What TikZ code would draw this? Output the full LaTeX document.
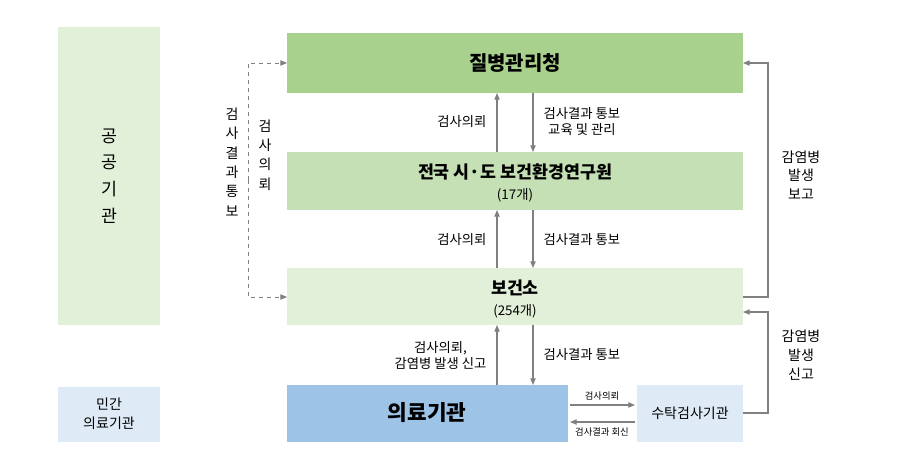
\documentclass[tikz,border=0pt]{standalone}
\usepackage{fontspec}
\setmainfont{Noto Sans CJK KR}
\usetikzlibrary{arrows.meta}
\definecolor{g1}{HTML}{A9D18E}
\definecolor{g2}{HTML}{C5E0B4}
\definecolor{g3}{HTML}{E2F0D9}
\definecolor{b1}{HTML}{9DC3E6}
\definecolor{b2}{HTML}{DEEBF7}
\definecolor{ln}{HTML}{808080}
\begin{document}
\begin{tikzpicture}[x=0.75pt,y=-0.75pt,
  box/.style={draw=none,inner sep=0pt,align=center},
  lab/.style={font=\fontsize{10}{12}\selectfont,align=center,inner sep=1pt},
  arr/.style={draw=ln,line width=0.8pt,-{Triangle[length=5pt,width=4pt]}}]
\useasboundingbox (0,0) rectangle (901,475);
\fill[g3] (58,27) rectangle (160,325);
\node[lab,font=\fontsize{13}{20}\selectfont] (pub) at (109,176) {공\\공\\기\\관};
\fill[b2] (58,387) rectangle (160,442);
\node[lab,font=\fontsize{10.5}{14}\selectfont] (pri) at (109,414) {민간\\의료기관};
\fill[g1] (287,33) rectangle (743,93);
\node[box,font=\fontsize{15}{18}\selectfont\bfseries] (kdca) at (515,63) {질병관리청};
\coordinate (kdcaL) at (287,63); \coordinate (kdcaR) at (743,63);
\fill[g2] (287,152) rectangle (743,210);
\node[box,font=\fontsize{13}{16}\selectfont\bfseries] (inst) at (515,172) {전국 시·도 보건환경연구원};
\node[lab] (inst2) at (515,195) {(17개)};
\fill[g3] (287,268) rectangle (743,325);
\node[box,font=\fontsize{13}{16}\selectfont\bfseries] (phc) at (515,288) {보건소};
\node[lab] (phc2) at (515,311) {(254개)};
\coordinate (phcL) at (287,297); \coordinate (phcR) at (743,297); \coordinate (phcR2) at (743,312);
\fill[b1] (287,385) rectangle (568,442);
\node[box,font=\fontsize{16}{18}\selectfont\bfseries] (med) at (427,413) {의료기관};
\fill[b2] (637,385) rectangle (743,442);
\node[lab,font=\fontsize{10.5}{13}\selectfont] (lab) at (690,413) {수탁검사기관};
% vertical arrows
\foreach \ya/\yb in {93/152,210/268,325/385}{
  \draw[arr] (497,\yb) -- (497,\ya);
  \draw[arr] (533,\ya) -- (533,\yb);
}
\node[lab,anchor=east] (l1) at (488,122) {검사의뢰};
\node[lab,anchor=west] (l2) at (542,122) {검사결과 통보\\교육 및 관리};
\node[lab,anchor=east] (l3) at (488,240) {검사의뢰};
\node[lab,anchor=west] (l4) at (542,240) {검사결과 통보};
\node[lab,anchor=east] (l5) at (488,355) {검사의뢰,\\감염병 발생 신고};
\node[lab,anchor=west] (l6) at (542,355) {검사결과 통보};
% dashed
\draw[arr,dashed,line width=0.7pt] (248,180) -- (248,63) -- (kdcaL);
\draw[arr,dashed,line width=0.7pt] (248,180) -- (248,297) -- (phcL);
\node[lab,font=\fontsize{10.5}{14.5}\selectfont] (d1) at (232,162) {검\\사\\결\\과\\통\\보};
\node[lab,font=\fontsize{10.5}{14.5}\selectfont] (d2) at (265,155) {검\\사\\의\\뢰};
% right
\draw[arr] (phcR) -- (768,297) -- (768,63) -- (kdcaR);
\node[lab,font=\fontsize{10.5}{14}\selectfont] (r1) at (801,175) {감염병\\발생\\보고};
\draw[arr] (743,413) -- (768,413) -- (768,312) -- (phcR2);
\node[lab,font=\fontsize{10.5}{14}\selectfont] (r2) at (801,355) {감염병\\발생\\신고};
% med <-> lab
\draw[arr] (570,405) -- (635,405);
\draw[arr] (635,422) -- (570,422);
\node[lab,font=\fontsize{7}{8}\selectfont] (m1) at (602,396) {검사의뢰};
\node[lab,font=\fontsize{7}{8}\selectfont] (m2) at (602,432) {검사결과 회신};
\end{tikzpicture}
\end{document}
